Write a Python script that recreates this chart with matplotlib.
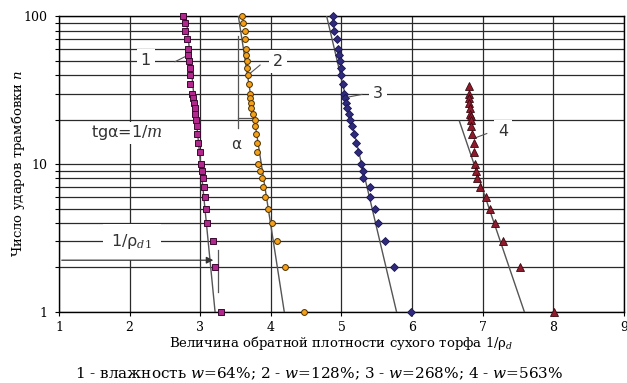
import matplotlib.pyplot as plt

# impact count n for series 1-3
n_a = [100, 90, 80, 70, 60, 55, 50, 45, 40, 35, 30, 28, 26, 24, 22, 20,
       18, 16, 14, 12, 10, 9, 8, 7, 6, 5, 4, 3, 2, 1]
x1 = [2.75, 2.785, 2.79, 2.81, 2.82, 2.83, 2.84, 2.85, 2.86, 2.86, 2.88, 2.90,
      2.91, 2.92, 2.93, 2.94, 2.96, 2.96, 2.97, 2.99, 3.01, 3.03, 3.035, 3.05,
      3.07, 3.08, 3.10, 3.18, 3.21, 3.30]
x2 = [3.59, 3.61, 3.63, 3.64, 3.645, 3.65, 3.66, 3.66, 3.67, 3.69, 3.70, 3.70,
      3.715, 3.72, 3.74, 3.77, 3.77, 3.79, 3.80, 3.81, 3.82, 3.84, 3.87, 3.89,
      3.92, 3.96, 4.02, 4.09, 4.20, 4.47]
x3 = [4.877, 4.88, 4.90, 4.93, 4.95, 4.97, 4.98, 4.99, 5.00, 5.02, 5.04, 5.055,
      5.065, 5.08, 5.10, 5.12, 5.15, 5.18, 5.21, 5.235, 5.275, 5.31, 5.31, 5.40,
      5.41, 5.47, 5.52, 5.62, 5.745, 5.98]
n4 = [34, 30, 28, 26, 24, 22, 21, 20, 18, 16, 14, 12, 10, 9, 8, 7, 6, 5, 4, 3, 2, 1]
x4 = [6.81, 6.81, 6.81, 6.81, 6.82, 6.82, 6.83, 6.83, 6.84, 6.85, 6.87, 6.87,
      6.89, 6.90, 6.92, 6.96, 7.05, 7.10, 7.17, 7.28, 7.53, 8.01]

# straight fit lines (x at ends, n at ends)
fit1 = ([3.21, 2.80], [1, 100])
fit2 = ([4.19, 3.54], [1, 100])
fit3 = ([5.78, 4.79], [1, 100])
fit4 = ([7.59, 6.67], [1, 19.5])

xticks = [1, 2, 3, 4, 5, 6, 7, 8, 9]

plt.rcParams['mathtext.fontset'] = 'custom'
plt.rcParams['mathtext.rm'] = 'DejaVu Serif'
plt.rcParams['mathtext.it'] = 'DejaVu Serif:italic'

fig = plt.figure(figsize=(6.27, 3.83), dpi=100)
ax = fig.add_axes([0.0941, 0.1854, 0.9011, 0.7721])
ax.set_yscale('log')
ax.set_xlim(1, 9)
ax.set_ylim(1, 100)
ax.set_axisbelow(True)
ax.grid(which='both', color='#2a2a2a', lw=0.9)
for s in ax.spines.values():
    s.set_color('black')
    s.set_linewidth(1)

ax.set_xticks(xticks)
ax.set_xticklabels([str(t) for t in xticks])
ax.set_yticks([1, 10, 100])
ax.set_yticklabels(['1', '10', '100'])
ax.tick_params(which='both', direction='out', length=3, width=0.8, labelsize=9)
ax.tick_params(axis='y', which='minor', labelleft=False)
ax.tick_params(axis='y', pad=5)
for lab in ax.get_xticklabels() + ax.get_yticklabels():
    lab.set_family('DejaVu Serif')

lc = '#555555'
for fx, fn in (fit1, fit2, fit3, fit4):
    ax.plot(fx, fn, color=lc, lw=1, zorder=3)

ax.plot(x1, n_a, ls='none', marker='s', ms=4.5, mfc='#b0288c', mec='#3a0830', mew=0.7, zorder=4, clip_on=False)
ax.plot(x2, n_a, ls='none', marker='o', ms=4.2, mfc='#f5a01a', mec='#4a3000', mew=0.7, zorder=4, clip_on=False)
ax.plot(x3, n_a, ls='none', marker='D', ms=4.0, mfc='#2e2a7c', mec='#1a1650', mew=0.6, zorder=4, clip_on=False)
ax.plot(x4, n4, ls='none', marker='^', ms=5.2, mfc='#8e1a2c', mec='#3a0810', mew=0.6, zorder=4, clip_on=False)

# labels with leaders
box = dict(boxstyle='square,pad=0.25', fc='white', ec='none')
ax.text(2.23, 50, '1', fontsize=11.5, ha='center', va='center', color='#333333', bbox=box, zorder=2)
ax.plot([2.643, 2.785], [49.3, 53.3], color=lc, lw=0.8, zorder=3)
ax.text(4.10, 49.3, '2', fontsize=11.5, ha='center', va='center', color='#333333', bbox=box, zorder=2)
ax.plot([3.847, 3.705], [46.8, 41.1], color=lc, lw=0.8, zorder=3)
ax.text(5.52, 30.1, '3', fontsize=11.5, ha='center', va='center', color='#333333', bbox=box, zorder=2)
ax.plot([5.288, 5.075], [29.6, 28.3], color=lc, lw=0.8, zorder=3)
ax.text(7.29, 16.5, '4', fontsize=11.5, ha='center', va='center', color='#333333', bbox=box, zorder=2)
ax.plot([7.057, 6.868], [16.1, 14.9], color=lc, lw=0.8, zorder=3)

ax.text(1.96, 16.3, r'tgα=1/$\mathit{m}$', fontsize=11.5, ha='center', va='center',
        color='#333333', bbox=dict(boxstyle='square,pad=0.1', fc='white', ec='none'), zorder=2)
ax.text(3.507, 13.5, 'α', fontsize=11, ha='center', va='center', color='#333333', zorder=3)
ax.plot([3.531, 3.531], [73, 17.5], color=lc, lw=0.9, zorder=3)
ax.plot([3.531, 3.762], [20.4, 20.4], color=lc, lw=0.9, zorder=3)

ax.text(2.03, 2.98, r'1/ρ$_{\mathit{d1}}$', fontsize=11.5, ha='center', va='center',
        color='#333333', bbox=dict(boxstyle='square,pad=0.55', fc='white', ec='none'), zorder=2)
ax.annotate('', xy=(3.224, 2.24), xytext=(1.0, 2.24),
            arrowprops=dict(arrowstyle='-|>', color='#333333', lw=0.9, mutation_scale=10), zorder=3)
ax.plot([3.245, 3.245], [2.62, 1.36], color=lc, lw=0.9, zorder=3)

fig.text(341 / 627, 1 - 342.7 / 383, r'Величина обратной плотности сухого торфа 1/ρ$_{\mathit{d}}$',
         fontsize=9.5, family='DejaVu Serif', ha='center', va='center')
fig.text(18 / 627, 1 - 163 / 383, r'Число ударов трамбовки $\mathit{n}$', fontsize=9.5,
         family='DejaVu Serif', ha='center', va='center', rotation=90)
fig.text(319 / 627, 1 - 373.3 / 383,
         r'1 - влажность $\mathit{w}$=64%; 2 - $\mathit{w}$=128%; 3 - $\mathit{w}$=268%; 4 - $\mathit{w}$=563%',
         fontsize=11, family='DejaVu Serif', ha='center', va='center')

fig.savefig('out.png', dpi=100)
